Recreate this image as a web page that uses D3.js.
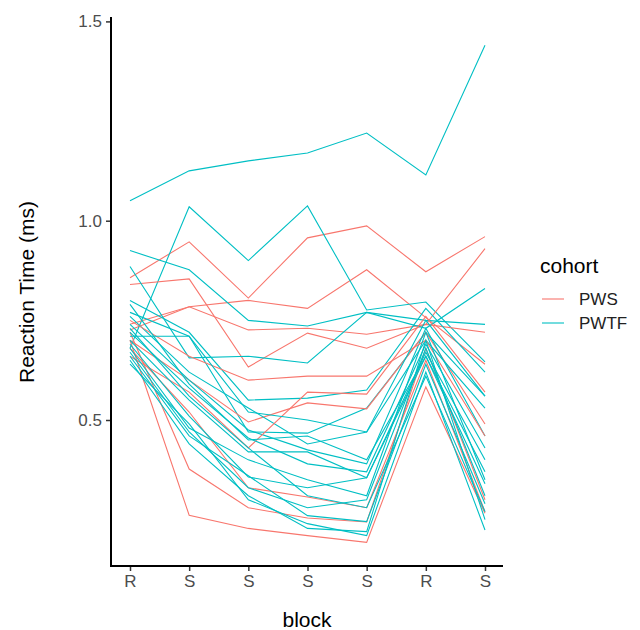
<!DOCTYPE html>
<html>
<head>
<meta charset="utf-8">
<script src="https://cdn.jsdelivr.net/npm/d3@7"></script>
<style>
body { margin: 0; background: #fff; }
svg { font-family: "Liberation Sans", Arial, sans-serif; }
</style>
</head>
<body>
<div id="chart"></div>
<script>
// x categories (block order)
var blocks = ['R', 'S', 'S', 'S', 'S', 'R', 'S'];
var yTicks = [0.5, 1.0, 1.5];
var cohorts = ['PWS', 'PWTF'];

// reaction times per subject, one array per block position
var pws = [
	[0.857, 0.947, 0.806, 0.957, 0.987, 0.872, 0.96],
	[0.726, 0.784, 0.80, 0.78, 0.877, 0.757, 0.64],
	[0.84, 0.854, 0.633, 0.718, 0.68, 0.74, 0.93],
	[0.74, 0.784, 0.726, 0.73, 0.715, 0.74, 0.72],
	[0.70, 0.261, 0.228, 0.21, 0.193, 0.583, 0.266],
	[0.72, 0.377, 0.28, 0.254, 0.244, 0.68, 0.30],
	[0.70, 0.60, 0.495, 0.543, 0.528, 0.72, 0.49],
	[0.68, 0.52, 0.33, 0.307, 0.28, 0.65, 0.27],
	[0.66, 0.57, 0.43, 0.57, 0.565, 0.76, 0.57],
	[0.75, 0.66, 0.60, 0.61, 0.61, 0.70, 0.46]
];
var pwtf = [
	[1.05, 1.125, 1.15, 1.17, 1.22, 1.115, 1.44],
	[0.68, 1.035, 0.90, 1.037, 0.776, 0.796, 0.646],
	[0.925, 0.877, 0.75, 0.736, 0.77, 0.75, 0.74],
	[0.885, 0.656, 0.66, 0.643, 0.77, 0.73, 0.83],
	[0.80, 0.72, 0.55, 0.555, 0.575, 0.78, 0.62],
	[0.77, 0.71, 0.47, 0.467, 0.53, 0.72, 0.56],
	[0.76, 0.62, 0.53, 0.44, 0.47, 0.70, 0.53],
	[0.74, 0.60, 0.475, 0.425, 0.39, 0.73, 0.46],
	[0.72, 0.58, 0.455, 0.39, 0.37, 0.69, 0.43],
	[0.70, 0.55, 0.42, 0.42, 0.355, 0.67, 0.40],
	[0.69, 0.51, 0.357, 0.33, 0.355, 0.66, 0.37],
	[0.68, 0.48, 0.40, 0.35, 0.31, 0.72, 0.35],
	[0.67, 0.47, 0.33, 0.28, 0.30, 0.68, 0.31],
	[0.66, 0.46, 0.36, 0.26, 0.245, 0.64, 0.29],
	[0.65, 0.44, 0.31, 0.228, 0.22, 0.70, 0.25],
	[0.64, 0.49, 0.30, 0.24, 0.21, 0.62, 0.224],
	[0.71, 0.71, 0.52, 0.50, 0.47, 0.75, 0.56],
	[0.79, 0.59, 0.45, 0.46, 0.40, 0.66, 0.34],
	[0.73, 0.56, 0.43, 0.31, 0.28, 0.61, 0.27]
];

var colors = {PWS: '#F8766D', PWTF: '#00BFC4'};

var svg = d3.select('#chart').append('svg')
	.attr('width', 640)
	.attr('height', 630);

var plot = {l: 111, r: 503, t: 17, b: 566};

// x: one slot per block position
var x = d3.scalePoint()
	.domain(d3.range(blocks.length))
	.range([130, 485]);

var y = d3.scaleLinear()
	.domain([0.5, 1.5])
	.range([420, 21.4]);

// interleave subjects of both cohorts the way ggplot draws groups
var series = [];
var n = Math.max(pws.length, pwtf.length);
for (var i = 0; i < n; i++) {
	if (i < pws.length) series.push({cohort: 'PWS', values: pws[i]});
	if (i < pwtf.length) series.push({cohort: 'PWTF', values: pwtf[i]});
}

var line = d3.line()
	.x(function(d, i) { return x(i); })
	.y(function(d) { return y(d); });

svg.append('g').selectAll('path')
	.data(series)
	.enter()
	.append('path')
	.attr('d', function(d) { return line(d.values); })
	.attr('fill', 'none')
	.attr('stroke', function(d) { return colors[d.cohort]; })
	.attr('stroke-width', 1.1);

// y axis
var yAxis = svg.append('g')
	.attr('transform', 'translate(' + plot.l + ',0)')
	.call(d3.axisLeft(y).tickValues(yTicks).tickFormat(d3.format('.1f')).tickSize(5).tickPadding(4));
yAxis.select('.domain').remove();
yAxis.selectAll('.tick line').attr('stroke', '#333').attr('stroke-width', 1.5);
yAxis.selectAll('.tick text').attr('fill', '#4D4D4D').style('font-size', '17px');

// x axis
var xAxis = svg.append('g')
	.attr('transform', 'translate(0,' + plot.b + ')')
	.call(d3.axisBottom(x).tickFormat(function(d) { return blocks[d]; }).tickSize(5).tickPadding(4));
xAxis.select('.domain').remove();
xAxis.selectAll('.tick line').attr('stroke', '#333').attr('stroke-width', 1.5);
xAxis.selectAll('.tick text').attr('fill', '#4D4D4D').style('font-size', '17px');

// axis lines
svg.append('path')
	.attr('d', 'M' + plot.l + ',' + plot.t + 'V' + plot.b + 'H' + plot.r)
	.attr('fill', 'none')
	.attr('stroke', '#000')
	.attr('stroke-width', 2);

// axis titles
svg.append('text')
	.attr('x', 307)
	.attr('y', 627)
	.attr('text-anchor', 'middle')
	.style('font-size', '21px')
	.text('block');

svg.append('text')
	.attr('transform', 'translate(34,292) rotate(-90)')
	.attr('text-anchor', 'middle')
	.style('font-size', '21px')
	.text('Reaction Time (ms)');

// legend
var legend = svg.append('g').attr('transform', 'translate(540,0)');
legend.append('text')
	.attr('x', 0)
	.attr('y', 273)
	.style('font-size', '21px')
	.attr('fill', '#000')
	.text('cohort');

var keys = legend.selectAll('g.key')
	.data(cohorts)
	.enter()
	.append('g')
	.attr('class', 'key')
	.attr('transform', function(d, i) { return 'translate(0,' + (299 + i * 24) + ')'; });
keys.append('line')
	.attr('x1', 2).attr('x2', 24)
	.attr('stroke', function(d) { return colors[d]; })
	.attr('stroke-width', 1.1);
keys.append('text')
	.attr('x', 39)
	.attr('y', 6)
	.style('font-size', '17px')
	.attr('fill', '#222')
	.text(function(d) { return d; });
</script>
</body>
</html>
